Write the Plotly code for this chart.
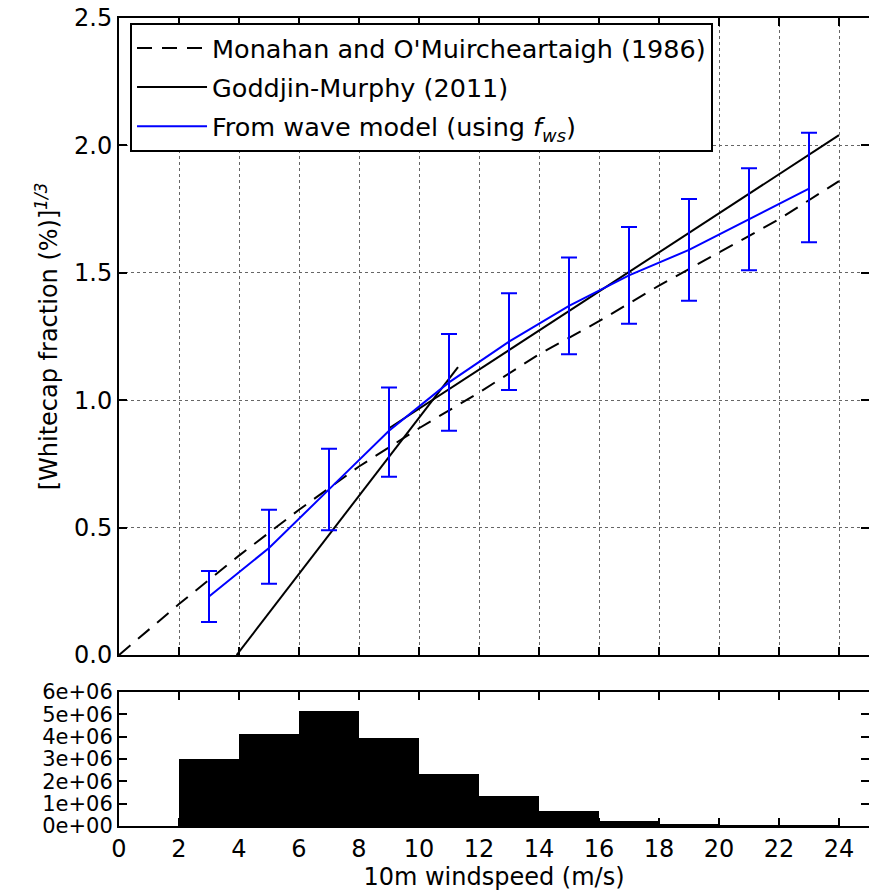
import plotly.graph_objects as go

# ---- data ----
monahan_u = [0, 2, 4, 6, 8, 10, 12, 14, 16, 18, 20, 22, 24]
monahan_w = [0.0, 0.20, 0.39, 0.57, 0.74, 0.89, 1.03, 1.18, 1.31, 1.45, 1.58, 1.71, 1.86]

goddijn_steep_u = [3.92, 11.3]
goddijn_steep_w = [0.0, 1.13]
goddijn_shallow_u = [9.0, 24.0]
goddijn_shallow_w = [0.89, 2.04]

model_u = [3, 5, 7, 9, 11, 13, 15, 17, 19, 21, 23]
model_w = [0.23, 0.42, 0.65, 0.88, 1.07, 1.23, 1.37, 1.49, 1.59, 1.71, 1.83]
model_lo = [0.13, 0.28, 0.49, 0.70, 0.88, 1.04, 1.18, 1.30, 1.39, 1.51, 1.62]
model_hi = [0.33, 0.57, 0.81, 1.05, 1.26, 1.42, 1.56, 1.68, 1.79, 1.91, 2.05]

hist_centers = [1, 3, 5, 7, 9, 11, 13, 15, 17, 19, 21, 23]
hist_counts = [0, 3.02e6, 4.12e6, 5.16e6, 3.92e6, 2.34e6, 1.36e6, 0.65e6, 0.23e6, 0.08e6, 0.02e6, 0.01e6]

main_yticks = [0.0, 0.5, 1.0, 1.5, 2.0, 2.5]
hist_yticks = [0, 1e6, 2e6, 3e6, 4e6, 5e6, 6e6]
hist_yticklabels = ["0e+00", "1e+06", "2e+06", "3e+06", "4e+06", "5e+06", "6e+06"]
xticks = list(range(0, 25, 2))

FONT = "DejaVu Sans"

err_plus = [h - w for h, w in zip(model_hi, model_w)]
err_minus = [w - l for w, l in zip(model_w, model_lo)]

fig = go.Figure()

fig.add_trace(go.Scatter(
    x=monahan_u, y=monahan_w, mode="lines",
    line=dict(color="black", width=2, dash="15px,10px"),
    name="Monahan and O'Muircheartaigh (1986)",
    legendgroup="a", xaxis="x", yaxis="y"))

fig.add_trace(go.Scatter(
    x=goddijn_steep_u, y=goddijn_steep_w, mode="lines",
    line=dict(color="black", width=2),
    name="Goddjin-Murphy (2011)", legendgroup="b", xaxis="x", yaxis="y"))
fig.add_trace(go.Scatter(
    x=goddijn_shallow_u, y=goddijn_shallow_w, mode="lines",
    line=dict(color="black", width=2),
    name="Goddjin-Murphy (2011)", legendgroup="b", showlegend=False,
    xaxis="x", yaxis="y"))

fig.add_trace(go.Scatter(
    x=model_u, y=model_w, mode="lines",
    line=dict(color="#0000ff", width=2),
    error_y=dict(type="data", symmetric=False, array=err_plus,
                 arrayminus=err_minus, color="#0000ff", thickness=2, width=8),
    name="From wave model (using <i>f</i><sub><i>ws</i></sub>)",
    legendgroup="c", xaxis="x", yaxis="y"))

fig.add_trace(go.Bar(
    x=hist_centers, y=hist_counts, width=2, marker=dict(color="black", line=dict(width=0)),
    showlegend=False, xaxis="x2", yaxis="y2"))

def axis_style(size=24):
    return dict(
        showline=True, linecolor="black", linewidth=2, mirror="ticks",
        ticks="inside", ticklen=8, tickwidth=1.5, tickcolor="black",
        zeroline=False, automargin=False, ticklabeloverflow="allow",
        tickfont=dict(family=FONT, size=size, color="black"))

fig.update_layout(
    width=869, height=886,
    margin=dict(l=111, r=8, t=10, b=68),
    paper_bgcolor="white", plot_bgcolor="white",
    font=dict(family=FONT, color="black"),
    bargap=0,
    xaxis=dict(domain=[0, 1], range=[0, 25], tickvals=xticks, showticklabels=False,
               showgrid=True, gridcolor="#666666", griddash="dot", gridwidth=1,
               anchor="y", **axis_style()),
    yaxis=dict(domain=[0.2116, 1], range=[0, 2.5], tickvals=main_yticks,
               tickformat=".1f",
               showgrid=True, gridcolor="#666666", griddash="dot", gridwidth=1,
               title=dict(text="[Whitecap fraction (%)]<sup><i>1/3</i></sup>",
                          font=dict(family=FONT, size=24), standoff=10),
               anchor="x", **axis_style()),
    xaxis2=dict(domain=[0, 1], range=[0, 25], tickvals=xticks,
                showgrid=False, anchor="y2",
                title=dict(text="10m windspeed (m/s)", font=dict(family=FONT, size=24),
                           standoff=4),
                **axis_style()),
    yaxis2=dict(domain=[0, 0.1658], range=[0, 6e6], tickvals=hist_yticks,
                ticktext=hist_yticklabels, showgrid=False, anchor="x2",
                **axis_style(21)),
    legend=dict(x=0.0147, y=0.994, xanchor="left", yanchor="top",
                bgcolor="white", bordercolor="black", borderwidth=2,
                font=dict(family=FONT, size=25.5, color="black"),
                itemwidth=70,
                traceorder="grouped", tracegroupgap=3),
    showlegend=True,
)

fig.write_html("out.html")
